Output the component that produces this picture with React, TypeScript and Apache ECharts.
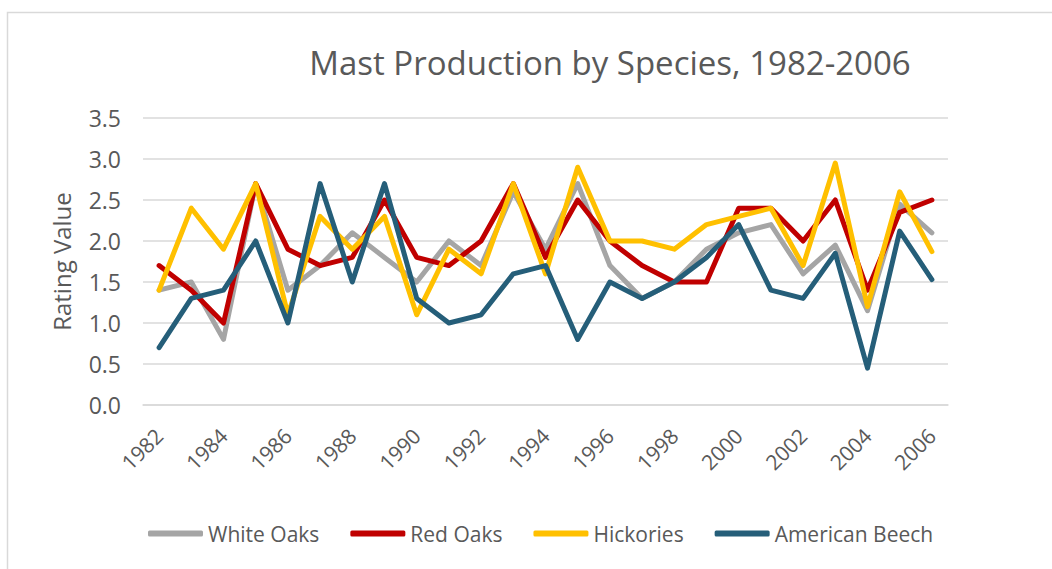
import React, { useEffect, useRef } from "react";
import * as echarts from "echarts";

const years = ["1982","1983","1984","1985","1986","1987","1988","1989","1990","1991","1992","1993","1994","1995","1996","1997","1998","1999","2000","2001","2002","2003","2004","2005","2006"];
const whiteOaks = [1.4,1.5,0.8,2.7,1.4,1.7,2.1,1.8,1.5,2.0,1.7,2.6,1.9,2.7,1.7,1.3,1.5,1.9,2.1,2.2,1.6,1.95,1.15,2.45,2.1];
const redOaks = [1.7,1.4,1.0,2.7,1.9,1.7,1.8,2.5,1.8,1.7,2.0,2.7,1.8,2.5,2.0,1.7,1.5,1.5,2.4,2.4,2.0,2.5,1.4,2.35,2.5];
const hickories = [1.4,2.4,1.9,2.7,1.1,2.3,1.9,2.3,1.1,1.9,1.6,2.7,1.6,2.9,2.0,2.0,1.9,2.2,2.3,2.4,1.7,2.95,1.2,2.6,1.87];
const americanBeech = [0.7,1.3,1.4,2.0,1.0,2.7,1.5,2.7,1.3,1.0,1.1,1.6,1.7,0.8,1.5,1.3,1.5,1.8,2.2,1.4,1.3,1.85,0.45,2.12,1.53];

const seriesNames = ["White Oaks", "Red Oaks", "Hickories", "American Beech"];
const seriesData = [whiteOaks, redOaks, hickories, americanBeech];
const colors = ["#A5A5A5", "#C00000", "#FFC000", "#255E79"];

const FONT = "'Open Sans', sans-serif";
const TXT = "#595959";

export default function App() {
  const ref = useRef<HTMLDivElement>(null);
  useEffect(() => {
    if (!ref.current) return;
    const chart = echarts.init(ref.current, undefined, { renderer: "svg" });
    chart.setOption({
      animation: false,
      backgroundColor: "#ffffff",
      color: colors,
      title: {
        text: "Mast Production by Species, 1982-2006",
        left: 605,
        top: 41,
        textAlign: "center",
        textStyle: { fontFamily: FONT, fontSize: 33, fontWeight: "normal", color: TXT },
      },
      graphic: [
        {
          type: "rect",
          shape: { x: 7.5, y: 12.5, width: 1100, height: 600 },
          style: { fill: "none", stroke: "#d9d9d9", lineWidth: 1.5 },
          silent: true,
        },
      ],
      legend: {
        top: 518,
        left: 143,
        data: seriesNames,
        icon: "roundRect",
        itemWidth: 55,
        itemHeight: 6,
        itemGap: 31,
        textStyle: { fontFamily: FONT, fontSize: 21, color: TXT },
      },
      grid: { left: 143, right: 104, top: 118, bottom: 164 },
      xAxis: {
        type: "category",
        data: years,
        boundaryGap: true,
        axisLine: { lineStyle: { color: "#d9d9d9", width: 1.5 } },
        axisTick: { show: false },
        axisLabel: {
          interval: 1,
          rotate: 45,
          margin: 27,
          fontFamily: FONT,
          fontSize: 21,
          color: TXT,
        },
      },
      yAxis: {
        type: "value",
        min: 0,
        max: 3.5,
        interval: 0.5,
        name: "Rating Value",
        nameLocation: "middle",
        nameRotate: 90,
        nameGap: 70,
        nameTextStyle: { fontFamily: FONT, fontSize: 24, color: TXT },
        axisLine: { show: false },
        axisTick: { show: false },
        splitLine: { lineStyle: { color: "#d9d9d9", width: 1.5 } },
        axisLabel: {
          margin: 22,
          fontFamily: FONT,
          fontSize: 23,
          color: TXT,
          formatter: (v: number) => v.toFixed(1),
        },
      },
      series: seriesNames.map((name, i) => ({
        name,
        type: "line",
        data: seriesData[i],
        symbol: "none",
        lineStyle: { width: 5, color: colors[i], cap: "round", join: "round" },
        itemStyle: { color: colors[i] },
      })),
    });
    return () => chart.dispose();
  }, []);
  return (
    <div style={{ position: "absolute", left: 0, top: 0, width: 1052, height: 569 }}>
      <div ref={ref} style={{ width: 1052, height: 569 }} />
    </div>
  );
}
